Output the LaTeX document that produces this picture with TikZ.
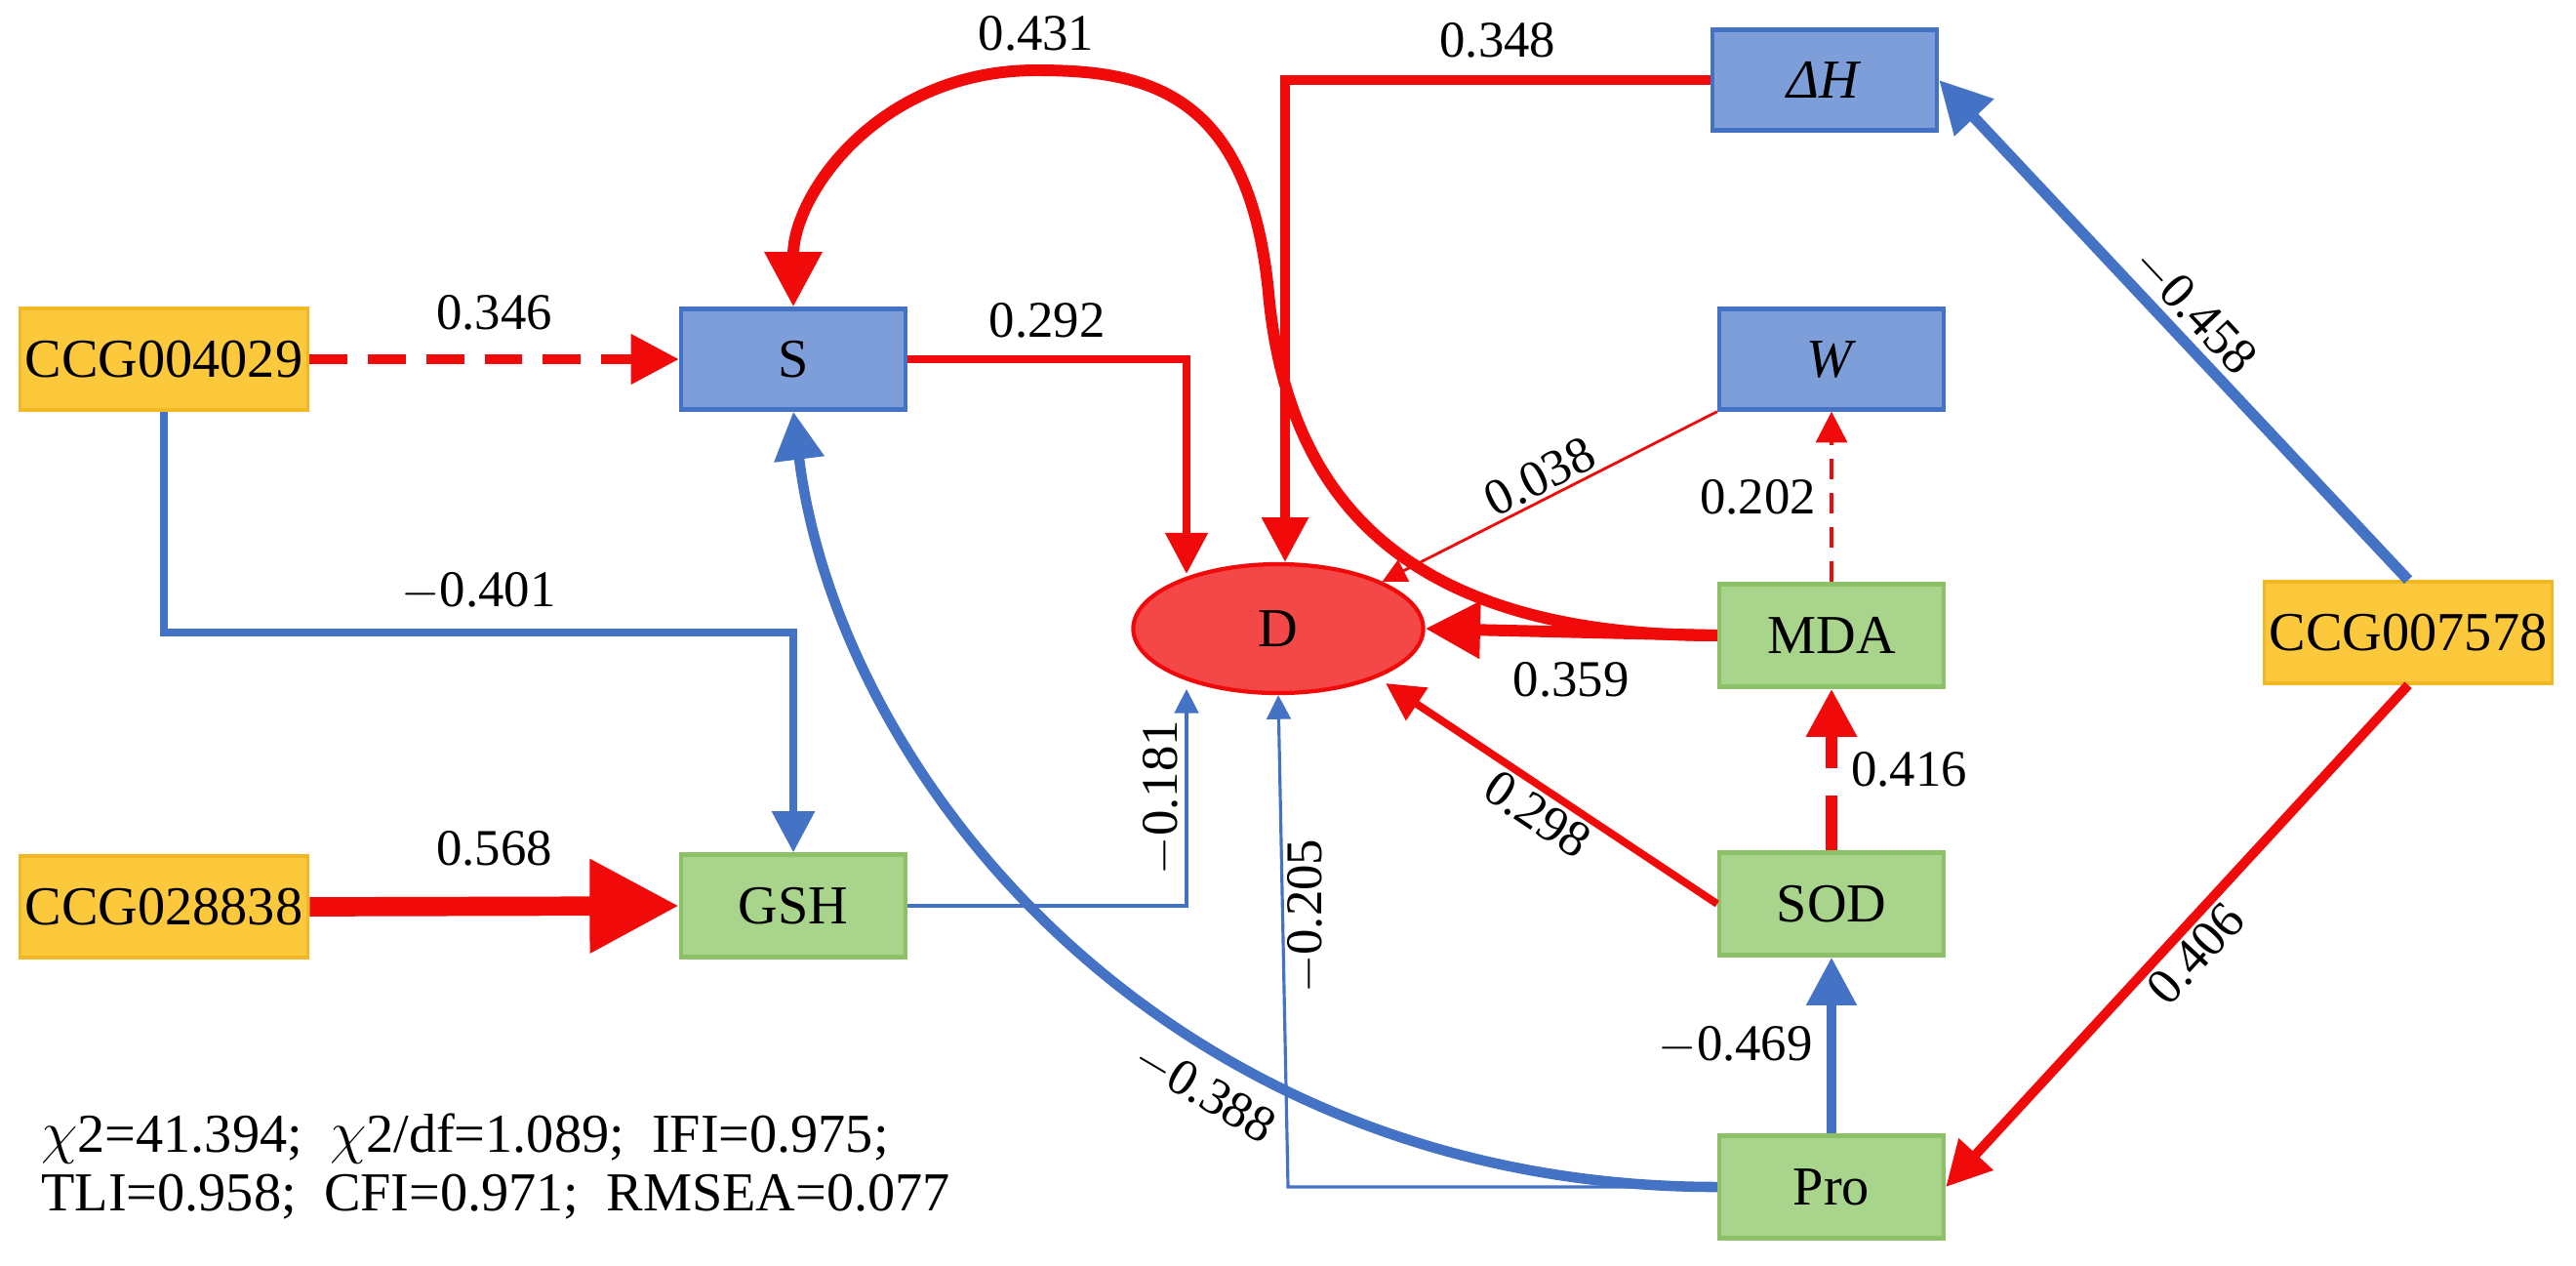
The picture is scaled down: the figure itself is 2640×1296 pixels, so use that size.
\documentclass[tikz,border=0pt]{standalone}
\usepackage{fontspec}
\setmainfont{Liberation Serif}
\usetikzlibrary{positioning}
\usetikzlibrary{calc}
\usetikzlibrary{shapes.geometric}
\usepgflibrary{arrows.meta}
\definecolor{pathred}{HTML}{F00A0A}
\definecolor{pathblue}{HTML}{4472C4}
\definecolor{boxblue}{HTML}{7E9ED9}
\definecolor{boxgreen}{HTML}{A9D48C}
\definecolor{linegreen}{HTML}{8CC168}
\definecolor{boxorange}{HTML}{FCC83C}
\definecolor{lineorange}{HTML}{F2B824}
\begin{document}
\begin{tikzpicture}[x=0.01cm, y=-0.01cm,
    trait/.style={draw=pathblue, fill=boxblue, line width=1.2pt, minimum width=2.3cm, minimum height=1.03cm, font=\fontsize{16}{18}\selectfont},
    enzyme/.style={draw=linegreen, fill=boxgreen, line width=1.2pt, minimum width=2.3cm, minimum height=1.05cm, font=\fontsize{16}{18}\selectfont},
    marker/.style={draw=lineorange, fill=boxorange, line width=1pt, minimum width=2.95cm, minimum height=1.04cm, inner sep=0pt, font=\fontsize{16}{18}\selectfont},
    coef/.style={font=\fontsize{15}{17}\selectfont, inner sep=1pt},
    tip/.style={-{Triangle[length=#1, width=#1]}}]
    \useasboundingbox (0,0) rectangle (2640,1296);

    % nodes
    \node [marker] (ccgS) at (168,368) {CCG004029};
    \node [marker] (ccgG) at (168,929) {CCG028838};
    \node [marker] (ccgH) at (2468,648) {CCG007578};
    \node [trait] (S) at (813,368) {S};
    \node [trait] (dH) at (1870,82) {\textit{ΔH}};
    \node [trait] (W) at (1877,368) {\textit{W}};
    \node [enzyme] (GSH) at (813,928) {GSH};
    \node [enzyme] (MDA) at (1877,651) {MDA};
    \node [enzyme] (SOD) at (1877,926) {SOD};
    \node [enzyme] (Pro) at (1877,1216) {Pro};
    \node [ellipse, draw=pathred, fill=pathred!75, line width=1.2pt, minimum width=2.97cm, minimum height=1.32cm, font=\fontsize{16}{18}\selectfont] (D) at (1310,644) {D};

    % red paths
    \path [draw=pathred, line width=3.4pt, tip=16pt] (MDA.west)
      .. controls (1450,651) and (1320,520) .. (1300,300)
      .. controls (1280,90) and (1170,72) .. (1062,72)
      node[pos=1, above=3pt, coef] {0.431}
      .. controls (900,72) and (813,200) .. (S.north);
    \path [draw=pathred, line width=3.4pt, tip=16pt] (MDA.west) -- (D.east) node[pos=0.5, below=6pt, coef] {0.359};
    \path [draw=pathred, line width=2.2pt, tip=12pt] (S.east) -- (1216,368) node[midway, above=4pt, coef] {0.292} -- (1216,588);
    \path [draw=pathred, line width=2.8pt, tip=13pt] (dH.west) -- (1317,82) node[midway, above=4pt, coef] {0.348} -- (D.north -| 1317,0);
    \path [draw=pathred, line width=2.8pt, dashed, dash pattern=on 11pt off 6pt, tip=14pt] (ccgS.east) -- (S.west) node[midway, above=6pt, coef] {0.346};
    \path [draw=pathred, line width=5.6pt, tip=26pt] (ccgG.east) -- (GSH.west) node[midway, above=8pt, coef] {0.568};
    \path [draw=pathred, line width=0.8pt, tip=7pt] (W.south west) -- (D.north east) node[midway, above, sloped, coef] {0.038};
    \path [draw=pathred, line width=1.2pt, dashed, dash pattern=on 6pt off 4pt, tip=9pt] (MDA.north) -- (W.south) node[midway, left=3pt, coef] {0.202};
    \path [draw=pathred, line width=3.4pt, dash pattern=on 16pt off 8pt, tip=14pt] (SOD.north) -- (MDA.south) node[midway, right=3pt, coef] {0.416};
    \path [draw=pathred, line width=2.2pt, tip=11pt] (SOD.west) -- (1420,700) node[midway, below, sloped, coef] {0.298};
    \path [draw=pathred, line width=2.8pt, tip=13pt] (ccgH.south) -- (Pro.east) node[midway, below, sloped, coef] {0.406};

    % blue paths
    \path [draw=pathblue, line width=3.2pt, tip=15pt] (ccgH.north) -- (dH.east) node[midway, above, sloped, coef] {$-$0.458};
    \path [draw=pathblue, line width=2.4pt, tip=12pt] (ccgS.south) -- (168,648) -- (813,648) node[midway, above=4pt, coef] {$-$0.401} -- (GSH.north);
    \path [draw=pathblue, line width=0.9pt, tip=7pt] (GSH.east) -- (1216,928) -- (1216,706) node[pos=0.5, rotate=90, anchor=south, coef] {$-$0.181};
    \path [draw=pathblue, line width=0.9pt, tip=7pt] (Pro.west) -- (1320,1216) -- (D.south) node[pos=0.55, rotate=90, anchor=north, coef] {$-$0.205};
    \path [draw=pathblue, line width=3pt, tip=14pt] (Pro.west) .. controls (1200,1216) and (860,800) .. (S.south) node[pos=0.35, below=4pt, sloped, coef] {$-$0.388};
    \path [draw=pathblue, line width=3pt, tip=14pt] (Pro.north) -- (SOD.south) node[midway, left=3pt, coef] {$-$0.469};

    % fit indices
    \node [anchor=west, align=left, font=\fontsize{16}{17}\selectfont] (fit) at (30,1195)
      {$\chi$2=41.394;\ \ $\chi$2/df=1.089;\ \ IFI=0.975;\\TLI=0.958;\ \ CFI=0.971;\ \ RMSEA=0.077};
\end{tikzpicture}
\end{document}
